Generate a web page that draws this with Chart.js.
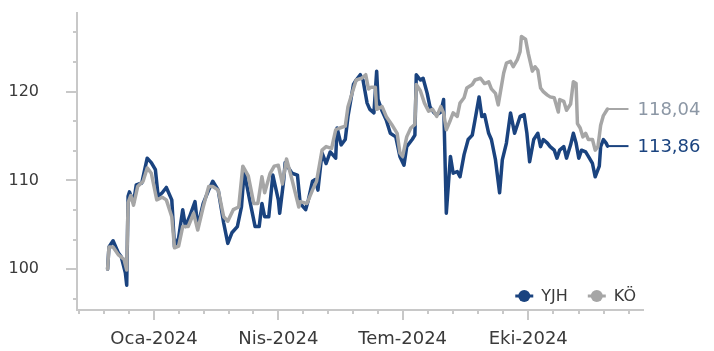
<!DOCTYPE html>
<html lang="tr">
<head>
<meta charset="utf-8">
<title>YJH - KÖ</title>
<script src="https://cdn.jsdelivr.net/npm/chart.js@4.4.1/dist/chart.umd.min.js"></script>
<style>
    html, body { margin: 0; padding: 0; background: #fff; }
    #wrap { width: 714px; height: 351px; }
</style>
</head>
<body>
<div id="wrap"><canvas id="chart" width="714" height="351"></canvas></div>
<script>
// Data (days counted from 1 Jan 2024)
const yjhDays = [
    -34, -33, -30, -26, -24, -21, -20, -19, -18, -15,
    -13, -9, -5, -2, 1, 3, 6, 9, 13, 15,
    18, 21, 23, 26, 30, 32, 36, 40, 43, 47,
    51, 54, 57, 61, 64, 66, 70, 74, 77, 79,
    81, 84, 87, 91, 92, 95, 96, 101, 105, 107,
    111, 113, 116, 118, 120, 123, 126, 129, 133, 134,
    137, 140, 142, 146, 148, 151, 153, 156, 158, 161,
    163, 164, 167, 170, 173, 177, 180, 183, 185, 189,
    191, 192, 195, 197, 200, 202, 205, 207, 210, 212,
    214, 217, 219, 222, 224, 227, 230, 233, 235, 238,
    240, 242, 245, 247, 250, 253, 255, 258, 261, 264,
    268, 271, 273, 275, 278, 281, 283, 285, 288, 290,
    293, 295, 297, 300, 302, 305, 307, 309, 311, 313,
    316, 318, 321, 323, 326, 327, 329, 331, 332
];
const yjhValues = [
    100.0, 102.5, 103.2, 101.8, 101.4, 99.6, 98.2, 108.2, 108.7, 107.5,
    109.5, 109.7, 112.5, 112.0, 111.2, 108.2, 108.6, 109.2, 107.8, 102.5,
    103.5, 106.7, 104.8, 105.9, 107.6, 104.8, 107.4, 108.9, 109.9, 108.9,
    105.2, 102.9, 104.1, 104.8, 107.0, 111.0, 107.8, 104.8, 104.8, 107.4,
    105.9, 105.9, 110.6, 107.8, 106.3, 110.1, 112.0, 110.8, 110.6, 107.4,
    106.7, 107.8, 109.9, 110.1, 108.9, 113.1, 111.9, 113.2, 112.5, 115.9,
    114.0, 114.6, 117.2, 120.8, 121.3, 121.9, 121.3, 118.7, 118.0, 117.6,
    122.3, 119.1, 117.8, 116.8, 115.3, 114.9, 112.7, 111.7, 113.8, 114.6,
    115.1, 121.9, 121.3, 121.5, 119.8, 118.3, 117.6, 117.4, 117.7, 119.1,
    106.3, 112.7, 110.8, 111.0, 110.4, 112.9, 114.6, 115.1, 116.8, 119.4,
    117.2, 117.4, 115.3, 114.6, 112.3, 108.6, 112.3, 114.2, 117.6, 115.3,
    117.2, 117.4, 115.3, 112.1, 114.6, 115.3, 113.8, 114.6, 114.2, 113.8,
    113.4, 112.5, 113.4, 113.8, 112.5, 114.0, 115.3, 114.2, 112.5, 113.4,
    113.2, 112.7, 111.9, 110.4, 111.6, 113.8, 114.6, 114.2, 113.86
];
const koDays = [
    -34, -33, -30, -26, -22, -20, -19, -17, -15, -12,
    -8, -5, -2, 2, 6, 9, 13, 15, 18, 21,
    25, 29, 32, 36, 40, 43, 47, 51, 54, 58,
    62, 65, 69, 73, 76, 79, 81, 85, 88, 91,
    94, 97, 101, 106, 107, 112, 116, 119, 123, 126,
    130, 133, 136, 140, 142, 145, 148, 152, 155, 157,
    159, 162, 163, 167, 170, 174, 178, 180, 182, 185,
    188, 191, 192, 195, 198, 201, 204, 207, 210, 212,
    214, 217, 219, 222, 224, 227, 229, 233, 235, 239,
    242, 245, 247, 250, 252, 254, 256, 258, 261, 263,
    266, 268, 269, 272, 274, 277, 279, 281, 283, 285,
    288, 290, 293, 296, 297, 300, 302, 305, 307, 309,
    310, 312, 314, 316, 318, 321, 323, 325, 327, 329,
    332
];
const koValues = [
    100.0, 102.5, 102.5, 101.6, 101.1, 99.9, 107.5, 108.3, 107.2, 109.3,
    109.9, 111.4, 110.8, 107.8, 108.1, 107.8, 105.9, 102.4, 102.6, 104.8,
    104.8, 106.3, 104.4, 107.0, 109.3, 109.3, 108.9, 105.9, 105.4, 106.7,
    107.0, 111.6, 110.5, 107.4, 107.4, 110.4, 108.6, 110.8, 111.6, 111.7,
    109.6, 112.4, 110.1, 107.0, 107.6, 107.4, 108.9, 109.9, 113.4, 113.8,
    113.6, 115.7, 115.9, 116.1, 118.3, 119.8, 121.3, 121.5, 121.9, 120.3,
    120.5, 120.5, 118.0, 118.3, 117.2, 116.3, 115.3, 113.1, 112.7, 114.9,
    115.9, 116.3, 120.8, 120.1, 118.7, 117.8, 118.0, 117.2, 118.3, 117.6,
    115.7, 116.8, 117.6, 117.2, 118.7, 119.3, 120.4, 120.8, 121.3, 121.5,
    120.9, 121.1, 120.3, 119.8, 118.5, 120.3, 122.1, 123.2, 123.4, 122.8,
    123.6, 124.5, 126.2, 125.9, 124.3, 122.3, 122.8, 122.4, 120.4, 120.0,
    119.6, 119.4, 119.3, 117.7, 119.1, 118.9, 117.9, 118.6, 121.1, 120.9,
    116.4, 115.9, 114.9, 115.3, 114.6, 114.6, 113.4, 113.8, 116.2, 117.3,
    118.04
];

const seriesNames = ['YJH', 'KÖ'];
const seriesColors = ['#1a437f', '#a6a6a6'];
const labelColors = ['#1a437f', '#8c97a5'];

// x axis: quarter starts, labelled ones
const quarterDays = [-92, 0, 91, 182, 274, 366];
const tickDays = [0, 91, 182, 274];
const tickLabels = ['Oca-2024', 'Nis-2024', 'Tem-2024', 'Eki-2024'];
// y axis
const yMajorTicks = [100, 110, 120];

const axisColor = '#c8c8c8';
const textColor = '#3a3a3a';
const fontFamily = '"DejaVu Sans", Verdana, sans-serif';

function toPoints(days, values) {
    return days.map((d, i) => ({ x: d, y: values[i] }));
}

function formatValue(v) {
    return v.toFixed(2).replace('.', ',');
}

// Tick marks: long for labelled ticks, short otherwise
const tickMarks = {
    id: 'tickMarks',
    afterDraw(chart) {
        const { ctx, chartArea, scales: { x, y } } = chart;
        ctx.save();
        ctx.strokeStyle = axisColor;
        ctx.lineWidth = 2;
        ctx.beginPath();
        x.ticks.forEach(t => {
            const px = Math.round(x.getPixelForValue(t.value));
            const len = tickDays.includes(t.value) ? 10 : 4;
            ctx.moveTo(px, chartArea.bottom);
            ctx.lineTo(px, chartArea.bottom + len);
        });
        y.ticks.forEach(t => {
            const py = Math.round(y.getPixelForValue(t.value));
            const major = yMajorTicks.some(v => Math.abs(v - t.value) < 0.01);
            const len = major ? 11 : 4;
            ctx.moveTo(chartArea.left, py);
            ctx.lineTo(chartArea.left - len, py);
        });
        ctx.stroke();
        ctx.restore();
    }
};

// Last value labels on the right
const endLabels = {
    id: 'endLabels',
    afterDatasetsDraw(chart) {
        const { ctx } = chart;
        ctx.save();
        chart.data.datasets.forEach((ds, i) => {
            const meta = chart.getDatasetMeta(i);
            const last = meta.data[meta.data.length - 1];
            const value = ds.data[ds.data.length - 1].y;
            ctx.strokeStyle = ds.borderColor;
            ctx.lineWidth = 2;
            ctx.beginPath();
            ctx.moveTo(last.x, last.y);
            ctx.lineTo(last.x + 21, last.y);
            ctx.stroke();
            ctx.fillStyle = ds.labelColor;
            ctx.font = '18px ' + fontFamily;
            ctx.textAlign = 'left';
            ctx.textBaseline = 'middle';
            ctx.fillText(formatValue(value), last.x + 30, last.y + 1);
        });
        ctx.restore();
    }
};

// Legend inside the plot, bottom right
const innerLegend = {
    id: 'innerLegend',
    afterDraw(chart) {
        const { ctx, chartArea } = chart;
        ctx.save();
        ctx.font = '16px ' + fontFamily;
        const markerW = 18, gapText = 8, gapItem = 20;
        const widths = seriesNames.map(n => ctx.measureText(n).width);
        let total = 0;
        widths.forEach((w, i) => { total += markerW + gapText + w + (i < widths.length - 1 ? gapItem : 0); });
        let x = chartArea.right - 7 - total;
        const y = chartArea.bottom - 14;
        seriesNames.forEach((name, i) => {
            ctx.strokeStyle = seriesColors[i];
            ctx.fillStyle = seriesColors[i];
            ctx.lineWidth = 3;
            ctx.beginPath();
            ctx.moveTo(x, y);
            ctx.lineTo(x + markerW, y);
            ctx.stroke();
            ctx.beginPath();
            ctx.arc(x + markerW / 2, y, 6, 0, Math.PI * 2);
            ctx.fill();
            x += markerW + gapText;
            ctx.fillStyle = textColor;
            ctx.textAlign = 'left';
            ctx.textBaseline = 'middle';
            ctx.fillText(name, x, y + 1);
            x += widths[i] + gapItem;
        });
        ctx.restore();
    }
};

const ctx = document.getElementById('chart').getContext('2d');
new Chart(ctx, {
    type: 'line',
    data: {
        datasets: [
            {
                label: seriesNames[0],
                data: toPoints(yjhDays, yjhValues),
                borderColor: seriesColors[0],
                labelColor: labelColors[0],
                borderWidth: 3.5,
                borderJoinStyle: 'round',
                borderCapStyle: 'round',
                pointRadius: 0,
                tension: 0,
                order: 2
            },
            {
                label: seriesNames[1],
                data: toPoints(koDays, koValues),
                borderColor: seriesColors[1],
                labelColor: labelColors[1],
                borderWidth: 3.5,
                borderJoinStyle: 'round',
                borderCapStyle: 'round',
                pointRadius: 0,
                tension: 0,
                order: 1
            }
        ]
    },
    options: {
        responsive: false,
        animation: false,
        layout: { padding: { top: 13, right: 71, bottom: 0, left: 0 } },
        plugins: {
            legend: { display: false },
            tooltip: { enabled: false }
        },
        scales: {
            x: {
                type: 'linear',
                min: -56.4,
                max: 358,
                grid: { display: false, drawTicks: true, tickLength: 10 },
                border: { display: true, color: axisColor, width: 2 },
                afterBuildTicks(scale) {
                    const ticks = [];
                    for (let q = 0; q < quarterDays.length - 1; q++) {
                        const step = (quarterDays[q + 1] - quarterDays[q]) / 5;
                        for (let k = 0; k < 5; k++) {
                            const v = quarterDays[q] + k * step;
                            if (v >= scale.min && v <= scale.max) ticks.push({ value: v });
                        }
                    }
                    scale.ticks = ticks;
                },
                afterFit(scale) {
                    scale.height = 41;
                    scale.paddingLeft = 0;
                    scale.paddingRight = 0;
                },
                ticks: {
                    autoSkip: false,
                    maxRotation: 0,
                    padding: 9,
                    color: textColor,
                    font: { family: fontFamily, size: 18 },
                    callback(value) {
                        const i = tickDays.indexOf(value);
                        return i >= 0 ? tickLabels[i] : '';
                    }
                }
            },
            y: {
                min: 95.4,
                max: 128.85,
                grid: { display: false, drawTicks: true, tickLength: 11 },
                border: { display: true, color: axisColor, width: 2 },
                afterBuildTicks(scale) {
                    const ticks = [];
                    for (let k = -1; k <= 8; k++) ticks.push({ value: 100 + k * 10 / 3 });
                    scale.ticks = ticks;
                },
                afterFit(scale) {
                    scale.width = 77;
                    scale.paddingTop = 0;
                    scale.paddingBottom = 0;
                },
                ticks: {
                    autoSkip: false,
                    padding: 27,
                    color: textColor,
                    font: { family: fontFamily, size: 16 },
                    callback(value) {
                        const m = yMajorTicks.find(v => Math.abs(v - value) < 0.01);
                        return m !== undefined ? String(m) : '';
                    }
                }
            }
        }
    },
    plugins: [tickMarks, endLabels, innerLegend]
});
</script>
</body>
</html>
